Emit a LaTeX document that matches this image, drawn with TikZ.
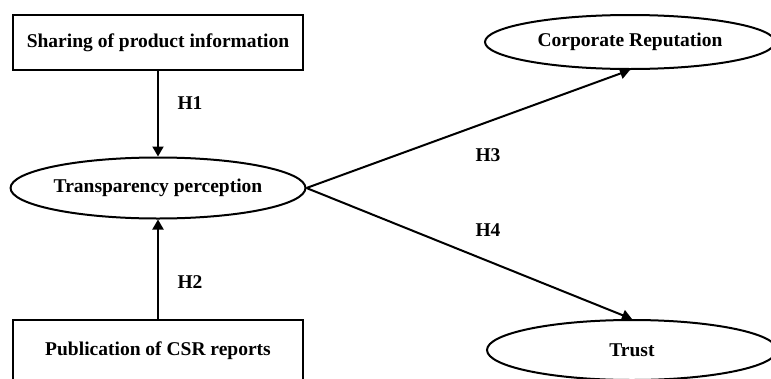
\documentclass[tikz,border=0pt]{standalone}
\usepackage{fontspec}
\setmainfont{Liberation Serif}
\usetikzlibrary{arrows.meta,shapes.geometric}
\begin{document}
\begin{tikzpicture}[x=1pt,y=-1pt,
  every node/.style={font=\fontsize{19.5}{22}\selectfont\bfseries},
  boxnode/.style={draw,line width=2pt,minimum width=290pt,inner sep=0pt},
  ellnode/.style={draw,ellipse,line width=2pt,minimum width=290pt,inner sep=0pt},
  conn/.style={line width=2pt,-{Triangle[length=10pt,width=11pt]}},
  lbl/.style={inner sep=0pt}]
\useasboundingbox (0,0) rectangle (771,378);
\clip (0,0) rectangle (771,378);
\node[boxnode,minimum height=55pt] (sp) at (158,42.5) {Sharing of product information};
\node[ellnode,minimum height=61pt] (tp) at (158,188) {Transparency perception};
\node[boxnode,minimum height=62pt] (csr) at (158,351) {Publication of CSR reports};
\node[ellnode,minimum height=54pt] (cr) at (630,42) {Corporate Reputation};
\node[ellnode,minimum height=60pt] (tr) at (632,350) {Trust};
\draw[conn] (sp.south) -- (tp.north);
\draw[conn] (csr.north) -- (tp.south);
\draw[conn] (tp.east) -- (cr.south);
\draw[conn] (tp.east) -- (tr.north);
\node[lbl] (h1) at (190,103) {H1};
\node[lbl] (h2) at (190,282) {H2};
\node[lbl] (h3) at (488,155) {H3};
\node[lbl] (h4) at (488,230) {H4};
\end{tikzpicture}
\end{document}
